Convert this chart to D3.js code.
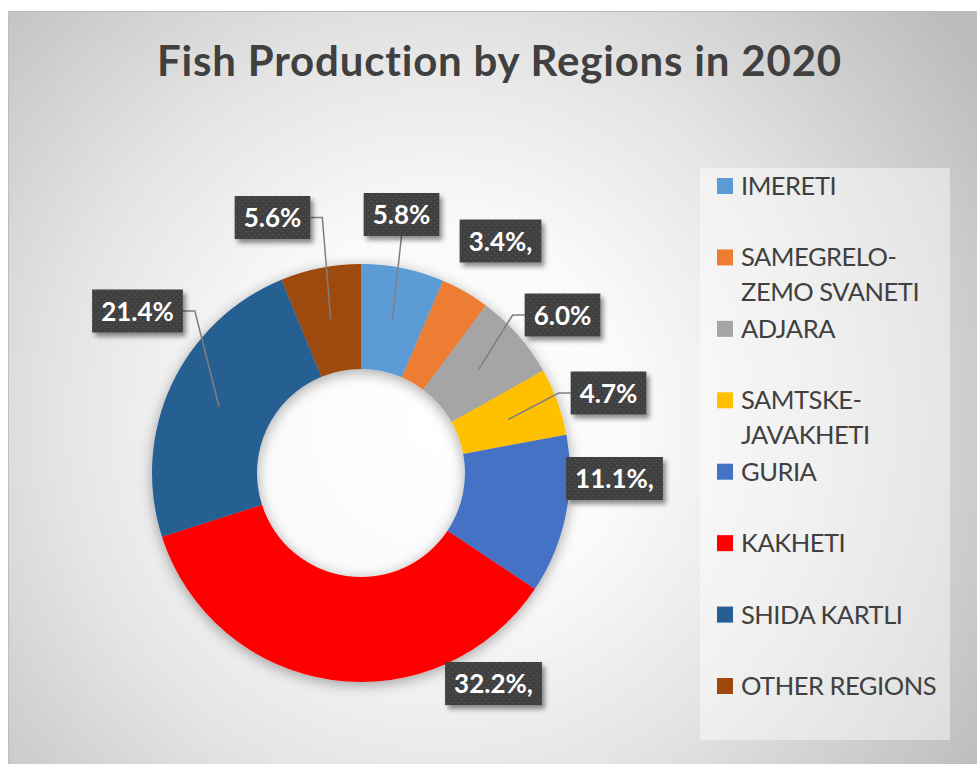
<!DOCTYPE html>
<html>
<head>
<meta charset="utf-8">
<script src="https://cdn.jsdelivr.net/npm/d3@7"></script>
<style>
  html, body { margin: 0; padding: 0; background: #ffffff; }
  svg { display: block; }
  text { font-variant-ligatures: none; font-feature-settings: "liga" 0, "clig" 0; }
</style>
</head>
<body>
<script>
// ---- data ----
const regions = ["IMERETI", "SAMEGRELO-ZEMO SVANETI", "ADJARA", "SAMTSKE-JAVAKHETI",
                 "GURIA", "KAKHETI", "SHIDA KARTLI", "OTHER REGIONS"];
const legendLines = [["IMERETI"], ["SAMEGRELO-", "ZEMO SVANETI"], ["ADJARA"],
                     ["SAMTSKE-", "JAVAKHETI"], ["GURIA"], ["KAKHETI"],
                     ["SHIDA KARTLI"], ["OTHER REGIONS"]];
const shares = [5.8, 3.4, 6.0, 4.7, 11.1, 32.2, 21.4, 5.6];
const labelSuffix = ["", ",", "", "", ",", ",", "", ""];
const sliceColors = ["#5B9BD5", "#ED7D31", "#A5A5A5", "#FFC000",
                     "#4472C4", "#FF0000", "#255E91", "#9E480E"];
const chartTitle = "Fish Production by Regions in 2020";

// ---- layout ----
const W = 977, H = 764;
const frame = { x: 8, y: 11 };
const donut = { cx: 361, cy: 473, outer: 209, inner: 104 };
// label box centres, relative to the donut centre
const labelOffsets = [[40.5, -258.5], [139.5, -232], [201.5, -158], [247.5, -80],
                      [253.5, 5.5], [132.5, 210.5], [-223.5, -162], [-88.5, -255.5]];
const showLeader = [true, false, true, true, false, false, true, true];
const legend = { boxX: 700, boxY: 168, boxW: 250, boxH: 572,
                 markX: 717, textX: 741, firstBase: 195, step: 71.43, lineH: 35 };

const svg = d3.select("body").append("svg")
  .attr("width", W).attr("height", H);

const defs = svg.append("defs");

// background gradient of the chart area
const bg = defs.append("radialGradient").attr("id", "bgGrad")
  .attr("gradientUnits", "userSpaceOnUse")
  .attr("cx", 440).attr("cy", 420).attr("r", 640);
[[0, "#ffffff"], [0.3, "#fafafa"], [0.6, "#e4e4e4"], [1, "#bdbdbd"]].forEach(([o, c]) =>
  bg.append("stop").attr("offset", o).attr("stop-color", c));

// soft shadow under the ring
const ringShadow = defs.append("filter").attr("id", "ringShadow")
  .attr("x", "-20%").attr("y", "-20%").attr("width", "140%").attr("height", "140%");
ringShadow.append("feGaussianBlur").attr("in", "SourceAlpha").attr("stdDeviation", 7).attr("result", "b");
ringShadow.append("feOffset").attr("in", "b").attr("dx", 0).attr("dy", 3).attr("result", "o");
ringShadow.append("feComponentTransfer").attr("in", "o").attr("result", "s")
  .append("feFuncA").attr("type", "linear").attr("slope", 0.35);
const rm = ringShadow.append("feMerge");
rm.append("feMergeNode").attr("in", "s");
rm.append("feMergeNode").attr("in", "SourceGraphic");

// shadow under the data label boxes
const boxShadow = defs.append("filter").attr("id", "boxShadow")
  .attr("x", "-30%").attr("y", "-30%").attr("width", "160%").attr("height", "170%");
boxShadow.append("feGaussianBlur").attr("in", "SourceAlpha").attr("stdDeviation", 2.5).attr("result", "b");
boxShadow.append("feOffset").attr("in", "b").attr("dx", 3).attr("dy", 4).attr("result", "o");
boxShadow.append("feComponentTransfer").attr("in", "o").attr("result", "s")
  .append("feFuncA").attr("type", "linear").attr("slope", 0.45);
const bm = boxShadow.append("feMerge");
bm.append("feMergeNode").attr("in", "s");
bm.append("feMergeNode").attr("in", "SourceGraphic");

// dotted texture of the label boxes
const dots = defs.append("pattern").attr("id", "dots")
  .attr("patternUnits", "userSpaceOnUse").attr("width", 6).attr("height", 6);
dots.append("rect").attr("width", 6).attr("height", 6).attr("fill", "#3f3f3f");
dots.append("circle").attr("cx", 1.5).attr("cy", 1.5).attr("r", 0.8).attr("fill", "#595959");
dots.append("circle").attr("cx", 4.5).attr("cy", 4.5).attr("r", 0.8).attr("fill", "#595959");

// chart area
svg.append("rect")
  .attr("x", frame.x + 0.5).attr("y", frame.y + 0.5)
  .attr("width", W - frame.x + 2).attr("height", H - frame.y + 2)
  .attr("fill", "url(#bgGrad)").attr("stroke", "#bdbdbd").attr("stroke-width", 1);

const font = "Lato, 'Open Sans', sans-serif";

// title: size for cap height, spacing for run width
const title = svg.append("text")
  .attr("x", 499.5).attr("y", 76)
  .attr("text-anchor", "middle")
  .attr("font-family", font)
  .attr("font-weight", 700).attr("fill", "#404040")
  .attr("font-size", 42).text(chartTitle);
const tw = title.node().getComputedTextLength();
title.attr("letter-spacing", (685 - tw) / chartTitle.length);

// ---- donut ----
const pie = d3.pie().sort(null).value(d => d).startAngle(0).endAngle(2 * Math.PI);
const arcs = pie(shares);
const arc = d3.arc().innerRadius(donut.inner).outerRadius(donut.outer);

const g = svg.append("g").attr("transform", `translate(${donut.cx},${donut.cy})`);

g.append("g").attr("filter", "url(#ringShadow)")
  .selectAll("path").data(arcs).join("path")
  .attr("d", arc)
  .attr("fill", (d, i) => sliceColors[i]);

// ---- data labels ----
const fmt = d3.format(".1f");
const labelG = g.append("g");

arcs.forEach((d, i) => {
  const [ox, oy] = labelOffsets[i];
  const txt = fmt(d.data) + "%" + labelSuffix[i];

  const t = labelG.append("text")
    .attr("font-family", font).attr("font-weight", 700)
    .attr("font-size", 26).attr("fill", "#ffffff")
    .attr("text-anchor", "middle")
    .attr("x", ox).attr("y", oy + 9.5)
    .text(txt);
  const textW = t.node().getComputedTextLength();
  const bw = textW + 18, bh = 43;
  const bx = ox - bw / 2, by = oy - bh / 2;

  if (showLeader[i]) {
    const [px, py] = arc.centroid(d);
    let pts;
    if (px >= bx && px <= bx + bw) {
      const sy = py > oy ? by + bh : by;
      pts = [[ox, sy], [px, py]];
    } else if (px > bx + bw) {
      pts = [[bx + bw, oy], [bx + bw + 12, oy], [px, py]];
    } else {
      pts = [[bx, oy], [bx - 12, oy], [px, py]];
    }
    labelG.append("path")
      .attr("d", d3.line()(pts))
      .attr("fill", "none").attr("stroke", "#7f7f7f").attr("stroke-width", 1.5);
  }

  labelG.append("rect")
    .attr("x", bx).attr("y", by).attr("width", bw).attr("height", bh)
    .attr("fill", "url(#dots)").attr("filter", "url(#boxShadow)");
  t.raise();
});

// ---- legend ----
svg.append("rect")
  .attr("x", legend.boxX).attr("y", legend.boxY)
  .attr("width", legend.boxW).attr("height", legend.boxH)
  .attr("fill", "#ffffff").attr("fill-opacity", 0.45);

const leg = svg.append("g");
const legendSize = 25.5;
const probe = leg.append("text").attr("font-family", font)
  .attr("font-size", legendSize).text("OTHER REGIONS");
const legendSpacing = (195 - probe.node().getComputedTextLength()) / 13;
probe.remove();

regions.forEach((name, i) => {
  const base = legend.firstBase + i * legend.step;
  const item = leg.append("g");
  item.append("rect")
    .attr("x", legend.markX).attr("y", base - 17)
    .attr("width", 16).attr("height", 16)
    .attr("fill", sliceColors[i]);
  const t = item.append("text")
    .attr("font-family", font).attr("font-size", legendSize)
    .attr("letter-spacing", legendSpacing)
    .attr("fill", "#404040");
  legendLines[i].forEach((line, k) => {
    t.append("tspan").attr("x", legend.textX).attr("y", base + k * legend.lineH).text(line);
  });
});
</script>
</body>
</html>
